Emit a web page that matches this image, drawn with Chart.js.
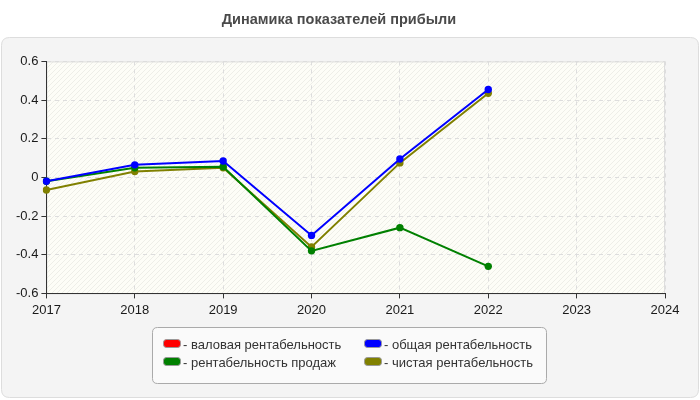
<!DOCTYPE html>
<html>
<head>
<meta charset="utf-8">
<script src="https://cdn.jsdelivr.net/npm/chart.js@4/dist/chart.umd.min.js"></script>
<style>
  html, body { margin: 0; padding: 0; background: #fff; }
  #wrap { width: 700px; height: 400px; }
</style>
</head>
<body>
<div id="wrap"><canvas id="chart"></canvas></div>
<script>
// данные
const years = ['2017', '2018', '2019', '2020', '2021', '2022', '2023', '2024'];
const valovaya = [null, null, null, null, null, null];
const obshaya = [-0.02, 0.065, 0.085, -0.30, 0.095, 0.455];
const prodazh = [-0.02, 0.05, 0.055, -0.38, -0.26, -0.46];
const chistaya = [-0.065, 0.03, 0.05, -0.36, 0.075, 0.435];
const seriesNames = ['валовая рентабельность', 'общая рентабельность', 'рентабельность продаж', 'чистая рентабельность'];
const seriesColors = ['#ff0000', '#0000ff', '#008000', '#808000'];
const yTicks = [-0.6, -0.4, -0.2, 0, 0.2, 0.4, 0.6];

const FONT = "'Liberation Sans', Arial, sans-serif";

function hatchPattern(ctx) {
    let c = document.createElement('canvas');
    c.width = 5; c.height = 5;
    let p = c.getContext('2d');
    p.fillStyle = '#fdfdf7';
    p.fillRect(0, 0, 5, 5);
    p.strokeStyle = '#eeeee8';
    p.lineWidth = 1;
    p.beginPath();
    p.moveTo(0, 5); p.lineTo(5, 0);
    p.moveTo(-2.5, 2.5); p.lineTo(2.5, -2.5);
    p.moveTo(2.5, 7.5); p.lineTo(7.5, 2.5);
    p.stroke();
    return ctx.createPattern(c, 'repeat');
}

function roundRect(ctx, x, y, w, h, r) {
    ctx.beginPath();
    ctx.moveTo(x + r, y);
    ctx.lineTo(x + w - r, y);
    ctx.quadraticCurveTo(x + w, y, x + w, y + r);
    ctx.lineTo(x + w, y + h - r);
    ctx.quadraticCurveTo(x + w, y + h, x + w - r, y + h);
    ctx.lineTo(x + r, y + h);
    ctx.quadraticCurveTo(x, y + h, x, y + h - r);
    ctx.lineTo(x, y + r);
    ctx.quadraticCurveTo(x, y, x + r, y);
    ctx.closePath();
}

const background = {
    id: 'background',
    beforeDraw(chart) {
        const ctx = chart.ctx;
        const a = chart.chartArea;
        ctx.save();
        roundRect(ctx, 1.5, 37.5, 697, 360, 8);
        ctx.fillStyle = '#f4f4f4';
        ctx.fill();
        ctx.strokeStyle = '#dddddd';
        ctx.lineWidth = 1;
        ctx.stroke();
        ctx.fillStyle = hatchPattern(ctx);
        ctx.fillRect(a.left, a.top, a.right - a.left, a.bottom - a.top);
        ctx.strokeStyle = '#dddddd';
        ctx.strokeRect(a.left + 0.5, a.top + 0.5, a.right - a.left - 1, a.bottom - a.top);
        ctx.restore();
    }
};

const boxLegend = {
    id: 'boxLegend',
    afterDraw(chart) {
        const ctx = chart.ctx;
        ctx.save();
        roundRect(ctx, 152.5, 327.5, 394, 56, 5);
        ctx.fillStyle = '#fafafa';
        ctx.fill();
        ctx.strokeStyle = '#aaaaaa';
        ctx.lineWidth = 1;
        ctx.stroke();
        ctx.font = '13px ' + FONT;
        ctx.textBaseline = 'middle';
        chart.data.datasets.forEach((ds, i) => {
            let x = i % 2 === 0 ? 163 : 364;
            let y = i < 2 ? 344 : 362;
            roundRect(ctx, x + 0.5, y - 4.5, 17, 8, 3);
            ctx.fillStyle = ds.borderColor;
            ctx.fill();
            ctx.strokeStyle = '#999999';
            ctx.stroke();
            ctx.fillStyle = '#333333';
            ctx.fillText('- ' + ds.label, x + 20, y + 1);
        });
        ctx.restore();
    }
};

function makeSet(i, values) {
    return {
        label: seriesNames[i],
        data: values,
        borderColor: seriesColors[i],
        backgroundColor: seriesColors[i],
        borderWidth: 2,
        pointRadius: 3.7,
        pointBorderWidth: 0,
        pointHoverRadius: 3.7,
        tension: 0,
        spanGaps: false
    };
}

new Chart(document.getElementById('chart'), {
    type: 'line',
    data: {
        labels: years,
        datasets: [
            makeSet(0, valovaya),
            makeSet(1, obshaya),
            makeSet(2, prodazh),
            makeSet(3, chistaya)
        ]
    },
    options: {
        responsive: true,
        maintainAspectRatio: false,
        animation: false,
        layout: { padding: { left: 13, right: 35, top: 0, bottom: 78 } },
        plugins: {
            legend: { display: false },
            tooltip: { enabled: false },
            title: {
                display: true,
                text: 'Динамика показателей прибыли',
                color: '#4a4a4a',
                font: { family: FONT, size: 14.5, weight: 'bold' },
                padding: { top: 11, bottom: 33 }
            }
        },
        scales: {
            x: {
                offset: false,
                grid: { color: '#dddddd', tickColor: '#333333', tickLength: 5, tickBorderDash: [] },
                border: { display: true, color: '#333333', width: 1, dash: [4, 4] },
                ticks: { color: '#1a1a1a', font: { family: FONT, size: 13 }, padding: 4, maxRotation: 0, autoSkip: false }
            },
            y: {
                min: -0.6,
                max: 0.6,
                afterBuildTicks(scale) { scale.ticks = yTicks.map(v => ({ value: v })); },
                grid: { color: '#dddddd', tickColor: '#333333', tickLength: 5, tickBorderDash: [] },
                border: { display: true, color: '#333333', width: 1, dash: [4, 4] },
                ticks: {
                    color: '#1a1a1a',
                    font: { family: FONT, size: 13 },
                    padding: 3,
                    callback: v => String(Math.round(v * 10) / 10)
                }
            }
        }
    },
    plugins: [background, boxLegend]
});
</script>
</body>
</html>
